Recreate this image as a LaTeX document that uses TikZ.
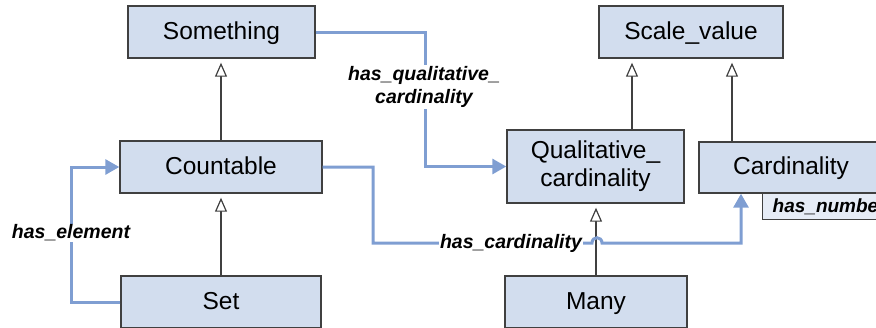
\documentclass[tikz,border=0pt]{standalone}
\usepackage{fontspec}
\setmainfont{Liberation Sans}
\usetikzlibrary{arrows.meta, positioning}

\definecolor{boxfill}{HTML}{D2DDEE}
\definecolor{boxline}{HTML}{404040}
\definecolor{relblue}{HTML}{7F9ED2}

\begin{document}
\begin{tikzpicture}[x=1pt, y=-1pt,
    cls/.style={draw=boxline, line width=1.4pt, fill=boxfill, minimum height=52pt,
                inner sep=0pt, font=\fontsize{24.5}{28}\selectfont},
    oneline/.style={text height=19pt, text depth=5pt},
    isa/.style={draw=boxline, line width=1.2pt, shorten >=4pt,
                -{Triangle[open, fill=white, length=14pt, width=12pt]}},
    rel/.style={draw=relblue, line width=3pt, -{Triangle[length=14pt, width=15pt]}},
    lbl/.style={fill=white, inner sep=1pt, align=center,
                font=\fontsize{19.5}{23}\selectfont\bfseries\itshape}]
    \useasboundingbox (0,0) rectangle (876,327);
    \clip (0,0) rectangle (876,327);

    % classes
    \node[cls, oneline, minimum width=187pt] (something) at (221.5,32) {Something};
    \node[cls, oneline, minimum width=202pt] (countable) at (221,167) {Countable};
    \node[cls, oneline, minimum width=200pt] (set) at (221,302) {Set};
    \node[cls, oneline, minimum width=184pt] (scalevalue) at (691,32) {Scale\_value};
    \node[cls, minimum width=177pt, minimum height=73pt, align=center]
        (qualcard) at (595.5,166.5) {Qualitative\_\\cardinality};
    \node[draw=boxline, line width=1.4pt, fill=boxfill!55, minimum height=26pt,
          inner xsep=10pt, anchor=north west,
          font=\fontsize{19}{22}\selectfont\bfseries\itshape]
        (hasnumber) at (762,193) {has\_number};
    \node[cls, oneline, minimum width=184pt, minimum height=51pt] (cardinality) at (791,167.5) {Cardinality};
    \node[cls, oneline, minimum width=182pt] (many) at (596,302) {Many};

    % subclass links
    \coordinate (q) at (632,0);
    \coordinate (c) at (732,0);
    \draw[isa] (countable.north) -- (countable.north |- something.south);
    \draw[isa] (set.north) -- (set.north |- countable.south);
    \draw[isa] (many.north) -- (many.north |- qualcard.south);
    \draw[isa] (qualcard.north -| q) -- (scalevalue.south -| q);
    \draw[isa] (cardinality.north -| c) -- (scalevalue.south -| c);

    % relations
    \coordinate (hq) at (425,100);
    \coordinate (he) at (71,233);
    \coordinate (hc1) at (373,243);
    \coordinate (hopl) at (592,243);
    \coordinate (hopr) at (602,243);
    \coordinate (hc2) at (741,243);
    \draw[rel] (something.east) -| (hq) |- (qualcard.west);
    \draw[rel] (set.west) -| (he) |- (countable.west);
    \draw[rel] (countable.east) -| (hc1) -- (hopl)
        .. controls (592,236) and (602,236) .. (hopr) -- (hc2) -- (hc2 |- cardinality.south);

    \node[lbl] at (424,87) {has\_qualitative\_\\cardinality};
    \node[lbl] at (he) {has\_element};
    \node[lbl] at (511,243) {has\_cardinality};
\end{tikzpicture}
\end{document}
